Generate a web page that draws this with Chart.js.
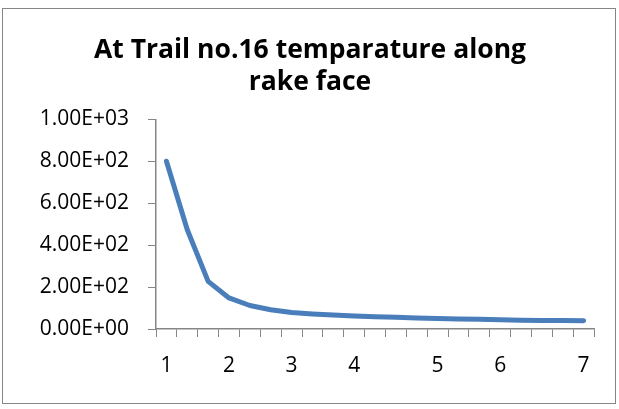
<!DOCTYPE html>
<html>
<head>
<meta charset="utf-8">
<script src="https://cdn.jsdelivr.net/npm/chart.js@4/dist/chart.umd.min.js"></script>
<style>
  html, body { margin: 0; padding: 0; background: #fff; }
  #wrap { position: relative; width: 619px; height: 409px; overflow: hidden; }
  #frame { position: absolute; left: 2px; top: 8px; width: 614px; height: 396px; border: 1.5px solid #868686; box-sizing: border-box; }
  canvas { position: absolute; left: 0; top: 0; }
</style>
</head>
<body>
<div id="wrap">
  <div id="frame"></div>
  <canvas id="c" width="619" height="409"></canvas>
</div>
<script>
// Category labels (only some positions are labelled in the reference)
const categories = ['1','','','2','','','3','','','4','','','','5','','','6','','','','7'];
// Temperature along rake face
const temperature = [800, 473, 227, 148, 112, 92, 79, 72, 67, 62, 59, 56, 53, 50, 48, 46, 44, 42, 41, 40, 39];
const titleLines = ['At Trail no.16 temparature along', 'rake face'];
const yMin = 0, yMax = 1000, yStep = 200;

function sci(v) {
  if (v === 0) return '0.00E+00';
  const e = Math.floor(Math.log10(Math.abs(v)));
  const m = v / Math.pow(10, e);
  const sign = e < 0 ? '-' : '+';
  const ee = String(Math.abs(e)).padStart(2, '0');
  return m.toFixed(2) + 'E' + sign + ee;
}

const axisColor = '#868686';
const fam = '"Open Sans", sans-serif';
const tickFont = { family: fam, size: 21 };
const padLeft = 26;

new Chart(document.getElementById('c'), {
  type: 'line',
  data: {
    labels: categories,
    datasets: [{
      data: temperature,
      borderColor: '#4A7EBB',
      borderWidth: 5,
      pointRadius: 0,
      tension: 0,
      borderJoinStyle: 'round',
      borderCapStyle: 'round',
      fill: false
    }]
  },
  options: {
    responsive: false,
    devicePixelRatio: 1,
    animation: false,
    layout: { padding: { left: padLeft, right: 25, top: 0, bottom: 0 } },
    plugins: {
      legend: { display: false },
      tooltip: { enabled: false },
      title: {
        display: true,
        text: titleLines,
        color: '#000',
        font: { family: fam, size: 26.5, weight: 'bold', lineHeight: 1.2 },
        padding: { top: 35, bottom: 20.7 }
      }
    },
    scales: {
      x: {
        type: 'category',
        offset: true,
        grid: { offset: true, drawOnChartArea: false, drawTicks: true, tickLength: 8, color: axisColor, lineWidth: 1 },
        border: { display: true, color: axisColor, width: 1.5 },
        ticks: { autoSkip: false, maxRotation: 0, color: '#000', font: tickFont, padding: 16 },
        afterFit: s => { s.height = 80; }
      },
      y: {
        min: yMin, max: yMax,
        grid: { drawOnChartArea: false, drawTicks: true, tickLength: 8, color: axisColor, lineWidth: 1 },
        border: { display: true, color: axisColor, width: 1.5 },
        ticks: { stepSize: yStep, color: '#000', font: tickFont, padding: 19, callback: v => sci(v) },
        afterFit: s => { s.width = 156 - padLeft; }
      }
    }
  }
});
</script>
</body>
</html>
